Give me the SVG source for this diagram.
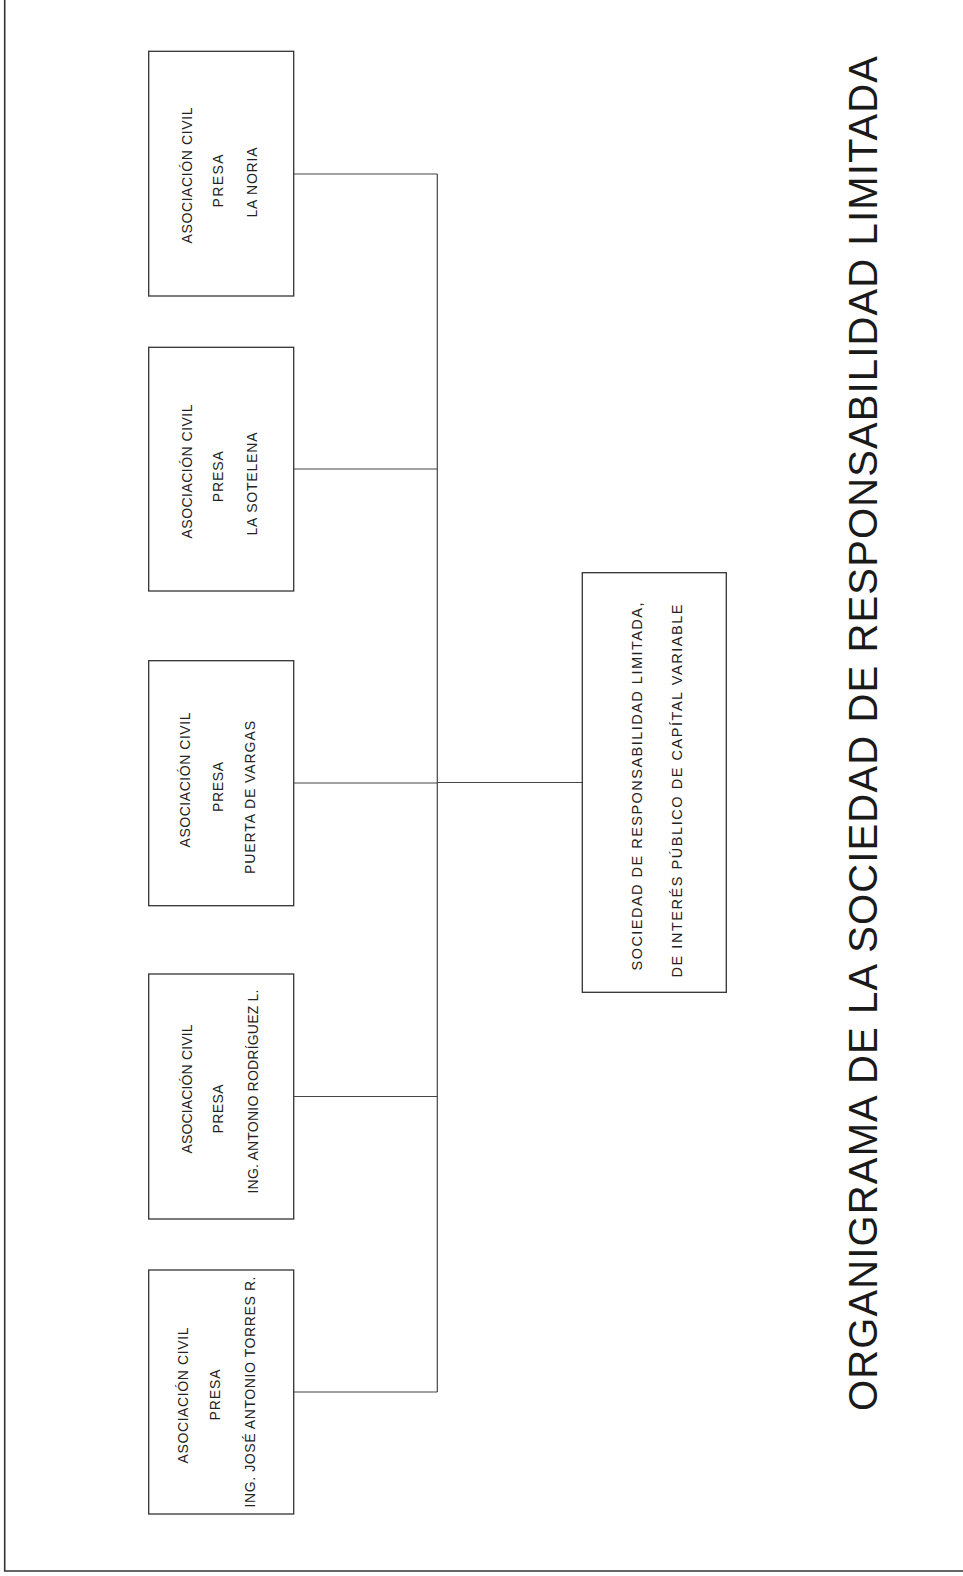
<svg xmlns="http://www.w3.org/2000/svg" width="963" height="1576" viewBox="0 0 963 1576">
<style>
.box{fill:#fff;stroke:#333;stroke-width:1.3}
.ln{fill:none;stroke:#444;stroke-width:1.2}
.frame{fill:none;stroke:#333;stroke-width:1.6}
.t{font-family:"Liberation Sans",Arial,sans-serif;font-size:14px;fill:#222;text-anchor:middle}
.tc{font-family:"Liberation Sans",Arial,sans-serif;font-size:14.5px;fill:#222;text-anchor:middle}
.title{font-family:"Liberation Sans",Arial,sans-serif;font-size:40px;fill:#1a1a1a;text-anchor:middle}
</style>
<rect width="963" height="1576" fill="#fff"/>
<path class="frame" d="M4.7,0 V1571 H963"/>
<g id="connectors">
<line class="ln" x1="437.3" y1="174" x2="437.3" y2="1392"/>
<line class="ln" x1="293.7" y1="174" x2="437.3" y2="174"/>
<line class="ln" x1="293.7" y1="469" x2="437.3" y2="469"/>
<line class="ln" x1="293.7" y1="783" x2="437.3" y2="783"/>
<line class="ln" x1="293.7" y1="1096.5" x2="437.3" y2="1096.5"/>
<line class="ln" x1="293.7" y1="1392" x2="437.3" y2="1392"/>
<line class="ln" x1="437.3" y1="782.5" x2="582.3" y2="782.5"/>
</g>
<g id="node-la-noria">
<rect class="box" x="148.7" y="51.3" width="145" height="244.7"/>
<text class="t" transform="translate(192,175.5) rotate(-90)" textLength="136" lengthAdjust="spacing">ASOCIACIÓN CIVIL</text>
<text class="t" transform="translate(223.3,181) rotate(-90)" textLength="53" lengthAdjust="spacing">PRESA</text>
<text class="t" transform="translate(256.7,182.5) rotate(-90)" textLength="70" lengthAdjust="spacing">LA NORIA</text>
</g>
<g id="node-la-sotelena">
<rect class="box" x="148.7" y="347.3" width="145" height="243.7"/>
<text class="t" transform="translate(191.7,471.5) rotate(-90)" textLength="134" lengthAdjust="spacing">ASOCIACIÓN CIVIL</text>
<text class="t" transform="translate(223,476.7) rotate(-90)" textLength="51" lengthAdjust="spacing">PRESA</text>
<text class="t" transform="translate(257.3,484) rotate(-90)" textLength="103" lengthAdjust="spacing">LA SOTELENA</text>
</g>
<g id="node-puerta-de-vargas">
<rect class="box" x="148.7" y="660.7" width="145" height="245"/>
<text class="t" transform="translate(190,780) rotate(-90)" textLength="135" lengthAdjust="spacing">ASOCIACIÓN CIVIL</text>
<text class="t" transform="translate(223,787) rotate(-90)" textLength="50" lengthAdjust="spacing">PRESA</text>
<text class="t" transform="translate(255,797.5) rotate(-90)" textLength="153" lengthAdjust="spacing">PUERTA DE VARGAS</text>
</g>
<g id="node-antonio-rodriguez">
<rect class="box" x="148.7" y="974" width="145" height="245"/>
<text class="t" transform="translate(192.3,1089) rotate(-90)" textLength="129" lengthAdjust="spacing">ASOCIACIÓN CIVIL</text>
<text class="t" transform="translate(223,1109) rotate(-90)" textLength="49" lengthAdjust="spacing">PRESA</text>
<text class="t" transform="translate(258.3,1091.5) rotate(-90)" textLength="204" lengthAdjust="spacing">ING. ANTONIO RODRÍGUEZ L.</text>
</g>
<g id="node-jose-antonio-torres">
<rect class="box" x="148.7" y="1270" width="145" height="244"/>
<text class="t" transform="translate(188.3,1395.5) rotate(-90)" textLength="136" lengthAdjust="spacing">ASOCIACIÓN CIVIL</text>
<text class="t" transform="translate(220,1395) rotate(-90)" textLength="51" lengthAdjust="spacing">PRESA</text>
<text class="t" transform="translate(255,1392) rotate(-90)" textLength="231" lengthAdjust="spacing">ING. JOSÉ ANTONIO TORRES R.</text>
</g>
<g id="node-srl">
<rect class="box" x="582.3" y="572.7" width="144" height="419.6"/>
<text class="tc" transform="translate(642,786.5) rotate(-90)" textLength="368" lengthAdjust="spacing">SOCIEDAD DE RESPONSABILIDAD LIMITADA,</text>
<text class="tc" transform="translate(682,791) rotate(-90)" textLength="373" lengthAdjust="spacing">DE INTERÉS PÚBLICO DE CAPÍTAL VARIABLE</text>
</g>
<g id="title">
<text class="title" transform="translate(877,733.5) rotate(-90)" textLength="1355" lengthAdjust="spacing">ORGANIGRAMA DE LA SOCIEDAD DE RESPONSABILIDAD LIMITADA</text>
</g>
</svg>
